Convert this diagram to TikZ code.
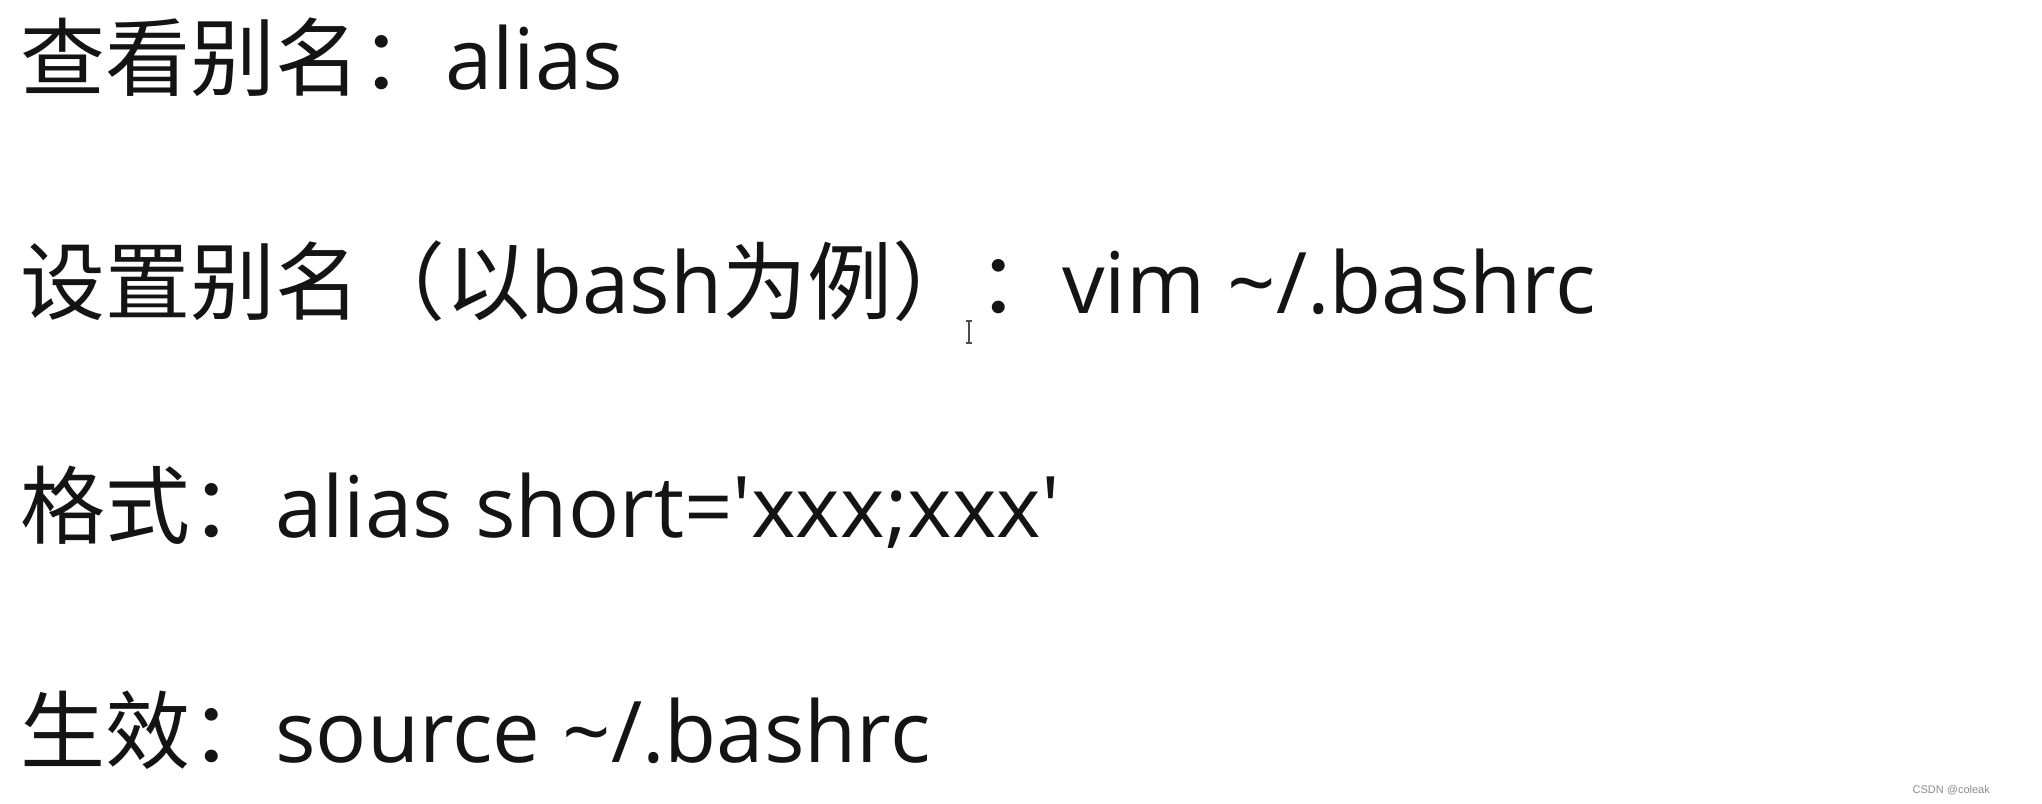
\documentclass[tikz,border=0pt]{standalone}
\usepackage{fontspec}
\newfontfamily\lat{Open Sans}
\newfontfamily\cjk{Noto Sans CJK SC}
\newfontfamily\wm{Liberation Sans}
\begin{document}
\begin{tikzpicture}[x=1pt,y=1pt]
\tikzset{
  textline/.style={anchor=base west, inner sep=0pt, text=black!92,
    font=\lat\fontsize{85}{92}\selectfont}
}
\path[use as bounding box, fill=white] (0,0) rectangle (2042,803);
\node[textline] (l1) at (20,713) {{\cjk 查看别名：}alias};
\node[textline] (l2) at (20,489) {{\cjk 设置别名（以}bash{\cjk 为例）：}vim \textasciitilde/.bashrc};
\node[textline] (l3) at (20,265) {{\cjk 格式：}alias short='xxx;xxx'};
\node[textline] (l4) at (20,40) {{\cjk 生效：}source \textasciitilde/.bashrc};
\node[anchor=base east, inner sep=0pt, text=black!45, font=\wm\fontsize{11}{13}\selectfont] (wmk) at (1990,10) {CSDN @coleak};
\draw[black!70, line width=1.2pt] (969,460) -- (969,482) (966,482) -- (972,482) (966,460) -- (972,460);
\end{tikzpicture}
\end{document}
